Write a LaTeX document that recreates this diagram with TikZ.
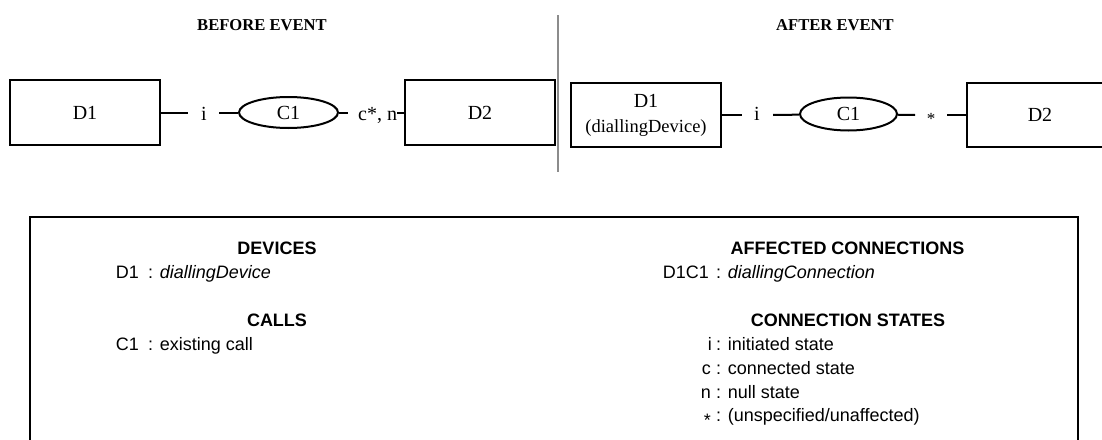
\documentclass[tikz,border=0pt]{standalone}
\usepackage{fontspec}
\setmainfont{Liberation Serif}
\newfontfamily\arialf{Liberation Sans}
\usetikzlibrary{shapes.geometric}
\tikzset{
  box/.style={draw, line width=2pt, rectangle, inner sep=0pt, minimum width=150pt, minimum height=65pt, font=\fontsize{20}{24}\selectfont, align=center},
  callell/.style={draw, line width=2pt, ellipse, inner sep=0pt, font=\fontsize{20}{24}\selectfont},
  conn/.style={line width=2pt},
  lbl/.style={inner sep=0pt, anchor=base, font=\fontsize{20}{24}\selectfont},
  ttl/.style={inner sep=0pt, anchor=base, font=\fontsize{16.6}{20}\selectfont\bfseries},
  head/.style={inner sep=0pt, anchor=base, font=\arialf\fontsize{18}{22}\selectfont\bfseries},
  key/.style={inner sep=0pt, anchor=base east, font=\arialf\fontsize{18}{22}\selectfont},
  val/.style={inner sep=0pt, anchor=base west, font=\arialf\fontsize{18}{22}\selectfont},
}
\begin{document}
\begin{tikzpicture}[x=1pt,y=-1pt]
\useasboundingbox (0,0) rectangle (1102,439);
\clip (0,0) rectangle (1102,439);
% titles
\node[ttl] (tb) at (262,30.7) {BEFORE EVENT};
\node[ttl] (ta) at (835,30.7) {AFTER EVENT};
% separator
\coordinate (s1) at (558,15);
\coordinate (s2) at (558,172);
\draw[line width=1.5pt, black!45] (s1) -- (s2);
% before event
\node[box] (bD1) at (85,112.5) {D1};
\node[box] (bD2) at (480,112.5) {D2};
\node[callell, minimum width=99pt, minimum height=31pt] (bC1) at (288.5,112.5) {C1};
\coordinate (b1) at (188,112.5);
\coordinate (b2) at (219,112.5);
\coordinate (b3) at (348,112.5);
\coordinate (b4) at (397,112.5);
\node[lbl] (bi) at (204,120) {i};
\node[lbl, anchor=base west] (bcn) at (358,120) {c*, n};
\draw[conn] (bD1) -- (b1);
\draw[conn] (b2) -- (bC1);
\draw[conn] (bC1) -- (b3);
\draw[conn] (b4) -- (bD2);
% after event
\node[box, minimum height=64pt] (aD1) at (646,115) {D1\\[1pt]{\fontsize{18.5}{22}\selectfont (diallingDevice)}};
\node[box, minimum width=146pt, minimum height=64pt] (aD2) at (1040,115) {D2};
\node[callell, minimum width=97pt, minimum height=33pt] (aC1) at (848.5,114) {C1};
\coordinate (a1) at (742,115);
\coordinate (a2) at (773,115);
\coordinate (a3) at (915,115);
\coordinate (a4) at (947,115);
\node[lbl] (ai) at (757,120) {i};
\node[inner sep=0pt, font=\fontsize{17}{20}\selectfont] (ast) at (931,119) {*};
\draw[conn] (aD1) -- (a1);
\draw[conn] (a2) -- (aC1);
\draw[conn] (aC1) -- (a3);
\draw[conn] (a4) -- (aD2);
% legend box
\draw[line width=2pt] (30,217) rectangle (1078,460);
\node[head] (hdev) at (277,254) {DEVICES};
\node[key] (k1) at (139,278) {D1};
\node[val] (v1) at (148,278) {: \textit{diallingDevice}};
\node[head] (hcall) at (277,326) {CALLS};
\node[key] (k2) at (139,350) {C1};
\node[val] (v2) at (148,350) {: existing call};
\node[head] (haff) at (847.5,254) {AFFECTED CONNECTIONS};
\node[key] (k3) at (709,278) {D1C1};
\node[val] (v3) at (716,278) {: \textit{diallingConnection}};
\node[head] (hst) at (848,326) {CONNECTION STATES};
\node[key] (k4) at (712,350) {i};
\node[val] (v4) at (716,350) {: initiated state};
\node[key] (k5) at (711,374) {c};
\node[val] (v5) at (716,374) {: connected state};
\node[key] (k6) at (711,398) {n};
\node[val] (v6) at (716,398) {: null state};
\node[key] (k7) at (711,421) {\raisebox{-5pt}{*}};
\node[val] (v7) at (716,421) {: (unspecified/unaffected)};
\end{tikzpicture}
\end{document}
